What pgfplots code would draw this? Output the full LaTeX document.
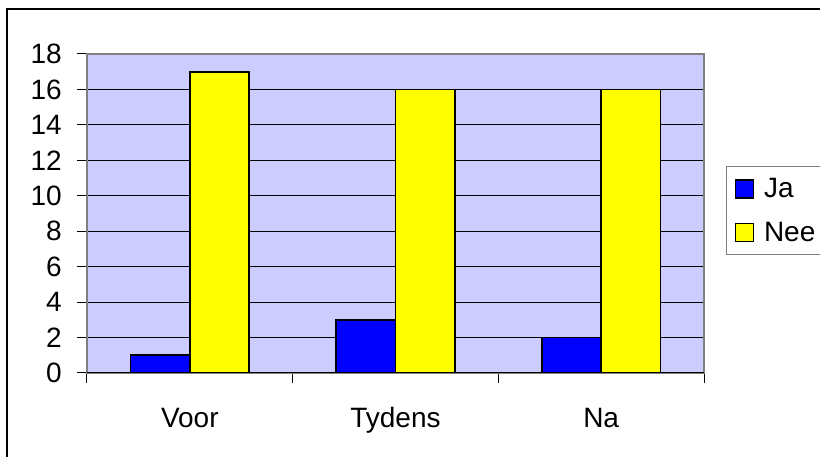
\documentclass[border=0pt]{standalone}
\usepackage{fontspec}
\setmainfont{Liberation Sans}
\usepackage{pgfplots}
\pgfplotsset{compat=1.18}
\definecolor{plotbg}{RGB}{204,204,255}
\definecolor{jablue}{RGB}{0,0,255}
\definecolor{neeyellow}{RGB}{255,255,0}
\definecolor{bordergray}{RGB}{128,128,128}
\begin{document}
\begin{tikzpicture}[x=1pt,y=1pt]
\begin{axis}[
  at={(0,0)}, anchor=south west,
  scale only axis, width=617pt, height=319pt,
  xmin=-0.5, xmax=2.5, ymin=0, ymax=18,
  ybar,
  ytick={0,2,...,18},
  xtick={-0.5,0.5,1.5,2.5}, xticklabels={},
  extra x ticks={0,1,2}, extra x tick labels={Voor,Tydens,Na},
  extra x tick style={major tick length=0pt, grid=none},
  xtick pos=bottom, ytick pos=left,
  axis background/.style={fill=plotbg},
  axis line style={bordergray, line width=2pt},
  ymajorgrids, y grid style={black, line width=1pt},
  tick align=outside, major tick length=10pt,
  tick style={black, line width=1pt},
  /pgf/number format/assume math mode=true,
  tick label style={font=\fontsize{28}{33}\selectfont},
  yticklabel style={inner sep=0pt, xshift=-15pt},
  xticklabel style={inner sep=0pt, text height=20.5pt, yshift=-34pt},
  legend image code/.code={\draw[#1, line width=1.5pt] (0pt,-9pt) rectangle (18pt,9pt);},
  legend style={at={(1.0357,0.649)}, anchor=north west, draw=bordergray, line width=1pt,
    inner xsep=8pt, inner ysep=10pt, row sep=19pt,
    /tikz/every odd column/.append style={column sep=8pt},
    nodes={inner sep=2pt, font=\fontsize{28}{33}\selectfont}},
  legend cell align=left,
]
\addplot[fill=jablue, draw=black, line width=1.6pt, bar width=0.289, bar shift=-0.1445]
  coordinates {(0,1) (1,3) (2,2)};
\addplot[fill=neeyellow, draw=black, line width=1.6pt, bar width=0.289, bar shift=0.1445]
  coordinates {(0,17) (1,16) (2,16)};
\draw[black, line width=1.5pt] (axis cs:-0.5,0) -- (axis cs:2.5,0);
\legend{Ja,Nee}
\end{axis}
\draw[line width=2.5pt] (-80,-95) -- (-80,364) -- (745,364);
\pgfresetboundingbox
\useasboundingbox (-87,-84) rectangle (733,373);
\end{tikzpicture}
\end{document}
